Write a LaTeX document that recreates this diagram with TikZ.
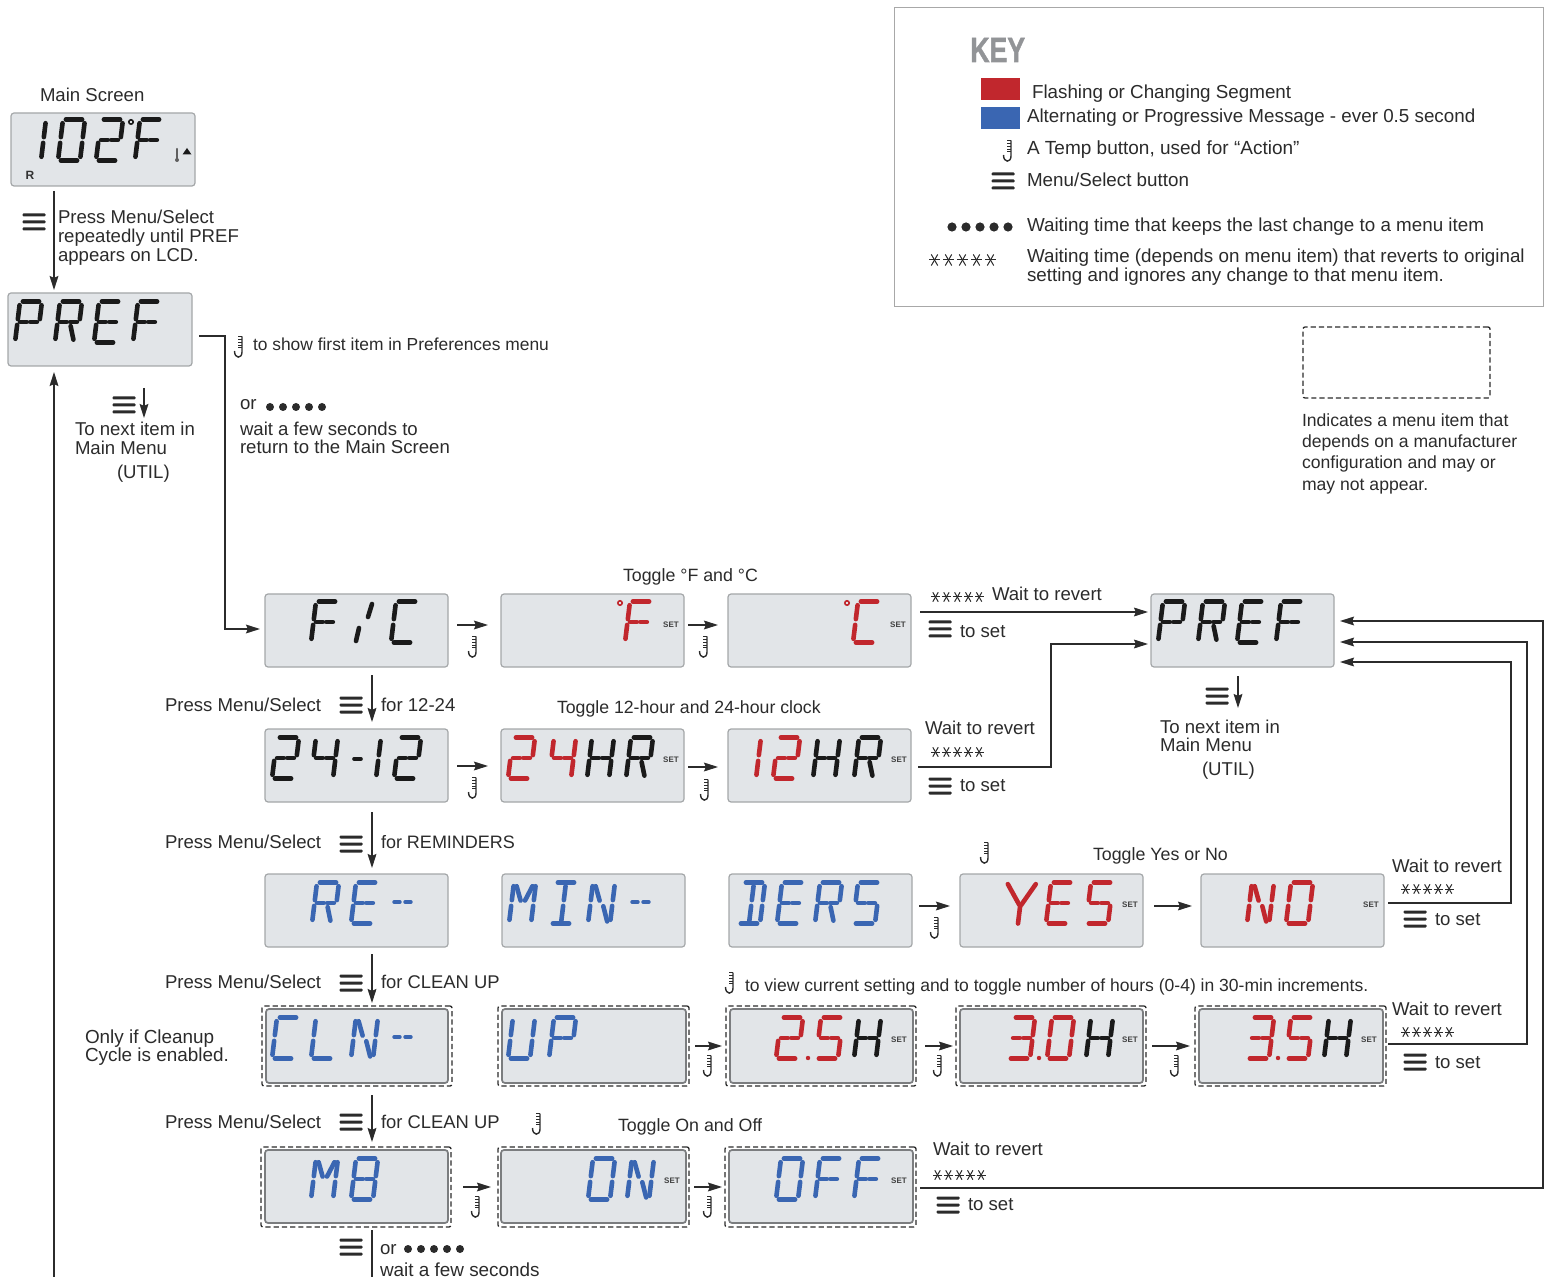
\documentclass[tikz,border=0pt]{standalone}
\usepackage{fontspec}
\setmainfont{Liberation Sans}
\newfontface\keyfont[FakeBold=1.5]{Liberation Sans Bold}
\usetikzlibrary{arrows.meta,calc}
\definecolor{lcdfill}{HTML}{E2E5E8}
\definecolor{lcdedge}{HTML}{A4A7A9}
\definecolor{lcdred}{HTML}{C1272D}
\definecolor{lcdblue}{HTML}{3A66B2}
\definecolor{lcdblack}{HTML}{1A1A1A}
\definecolor{textcol}{HTML}{2B2B2B}
\definecolor{keygray}{HTML}{929497}
\definecolor{boxgray}{HTML}{A8A8A8}
\newcounter{labn}
\tikzset{
  txt/.style={font=\fontsize{9.3}{11}\selectfont,anchor=base west,inner sep=0pt,outer sep=0pt,text=textcol},
  fs/.style={font=\fontsize{#1}{11}\selectfont},
  smalltxt/.style={txt,fs=8.8},
  lcdpanel/.style={draw=lcdedge,line width=.6pt,fill=lcdfill,rounded corners=1.5pt,inner sep=0pt,outer sep=0pt},
  darkpanel/.style={lcdpanel,draw=lcdedge!75!black,line width=.85pt},
  dashbox/.style={draw=textcol,line width=.65pt,dash pattern=on 2.6pt off 1.5pt,rounded corners=1pt,inner sep=0pt,outer sep=0pt},
  segline/.style={line width=2.3pt,line cap=round},
  arrowline/.style={draw=textcol,line width=.6pt,-{Stealth[length=7pt,width=4.4pt,inset=.9pt]}},
  plainline/.style={draw=textcol,line width=.6pt},
  settag/.style={font=\fontsize{4}{4}\bfseries\selectfont,inner sep=0pt,outer sep=0pt,text=black!75},
  pics/menuicon/.style={code={\foreach \q in {-7,0,7}{\fill[textcol,rounded corners=.5pt] (-11.5,\q-1.5) rectangle (11.5,\q+1.5);}}},
  pics/tempicon/.style={code={
    \draw[textcol,line width=.7pt] (3,-10.5) -- (3,5) .. controls (3,12) and (-4.5,12) .. (-4.5,4);
    \foreach \q in {-10.5,-7.7,-4.9,-2.1,.7}{\draw[textcol,line width=.35pt] (3,\q) -- (-1.5,\q);}}},
  pics/dotsrow/.style={code={\foreach \q in {0,1,2,3,4}{\fill[textcol] (\q*13,0) circle (4);}}},
  pics/keydots/.style={code={\foreach \q in {0,1,2,3,4}{\fill[textcol] (\q*14,0) circle (4.6);}}},
  pics/starsrow/.style={code={\foreach \q in {0,1,2,3,4}{\foreach \a/\r in {0/4.4,60/5.4,120/5.4}{\draw[textcol,line width=.5pt] ($(\q*10.9,0)+(\a:\r)$) -- ($(\q*10.9,0)+(\a+180:\r)$);}}}},
  pics/keystars/.style={code={\foreach \q in {0,1,2,3,4}{\foreach \a/\r in {0/5.4,60/6.4,120/6.4}{\draw[textcol,line width=.5pt] ($(\q*14,0)+(\a:\r)$) -- ($(\q*14,0)+(\a+180:\r)$);}}}},
}
\newcommand\lab[4][txt]{\stepcounter{labn}\node[#1] (lab\arabic{labn}) at (#2,#3+1) {#4};}
\newcommand\panel[6][lcdpanel]{\pgfmathsetmacro\pw{(#5-#3)*.5}\pgfmathsetmacro\ph{(#6-#4)*.5}\node[#1,minimum width=\pw pt,minimum height=\ph pt] (#2) at ({(#3+#5)/2},{(#4+#6)/2}) {};}
\newcommand\dashed[5]{\pgfmathsetmacro\pw{(#4-#2)*.5}\pgfmathsetmacro\ph{(#5-#3)*.5}\node[dashbox,minimum width=\pw pt,minimum height=\ph pt] (#1) at ({(#2+#4)/2},{(#3+#5)/2}) {};}
% segment geometry in a unit cell (origin top-left, slanted)
\def\SEGa{(.13,0) -- (.87,0)}
\def\SEGb{(1,.09) -- (1,.43)}
\def\SEGc{(1,.57) -- (1,.91)}
\def\SEGd{(.13,1) -- (.87,1)}
\def\SEGe{(0,.57) -- (0,.91)}
\def\SEGf{(0,.09) -- (0,.43)}
\def\SEGg{(.12,.5) -- (.42,.5)}
\def\SEGh{(.58,.5) -- (.88,.5)}
\def\SEGk{(.62,.6) -- (.82,.93)}
\def\SEGm{(.5,.09) -- (.5,.43)}
\def\SEGn{(.5,.57) -- (.5,.98)}
\def\SEGp{(.14,.09) -- (.4,.44)}
\def\SEGq{(.6,.58) -- (.86,.95)}
\def\SEGr{(.86,.09) -- (.6,.44)}
\def\SEGs{(-.18,.04) -- (.46,.55)}
\def\SEGt{(1.09,.04) -- (.54,.55)}
\def\SEGu{(.5,.6) -- (.5,1)}
\def\GLone{b,c}
\def\GLtwo{a,b,g,h,e,d}
\def\GLthree{a,b,g,h,c,d}
\def\GLfour{f,g,h,b,c}
\def\GLfive{a,f,g,h,c,d}
\def\GLzero{a,b,c,d,e,f}
\def\GLeight{a,b,c,d,e,f,g,h}
\def\GLC{a,f,e,d}
\def\GLD{a,b,c,d,m,n}
\def\GLE{a,f,e,d,g,h}
\def\GLF{a,f,e,g,h}
\def\GLH{f,e,b,c,g,h}
\def\GLI{a,d,m,n}
\def\GLL{f,e,d}
\def\GLM{f,e,b,c,p,r}
\def\GLN{f,e,b,c,p,q}
\def\GLP{a,b,f,e,g,h}
\def\GLR{a,b,f,e,g,h,k}
\def\GLU{f,e,b,c,d}
\def\GLY{s,t,u}
\newcommand\lcdrow[3]{\foreach \X/\G in {#3}{%
  \begin{scope}[shift={({\X+5},#2+1.5)},x={(11pt,0pt)},y={(-2.5pt,-20.5pt)}]
    \edef\curlist{\csname GL\G\endcsname}
    \foreach \s in \curlist {\draw[segline,#1] \csname SEG\s\endcsname;}
  \end{scope}}}
\newcommand\lcddash[4]{\draw[segline,line width=1.7pt,#1] (#2,#4) -- ({#2+6},#4); \draw[segline,line width=1.7pt,#1] ({#2+11},#4) -- ({#2+17},#4);}
\newcommand\lcddeg[3]{\draw[#1,line width=.8pt] (#2,#3) circle (2.2);}
\begin{document}
\begin{tikzpicture}[x=.5pt,y=-.5pt]
\useasboundingbox (0,0) rectangle (1546,1277);
% ---- key
\node[draw=boxgray,line width=.5pt,minimum width=324.5pt,minimum height=149.5pt,inner sep=0pt,outer sep=0pt] (keybox) at (1218.5,157.5) {};
\node[anchor=base west,inner sep=0pt,text=keygray,font=\fontsize{17.5}{20}\keyfont] (keytitle) at (970,62) {\scalebox{.76}[1]{KEY}};
\node[fill=lcdred,minimum width=19.5pt,minimum height=11pt,inner sep=0pt] (keyred) at (1000.5,89) {};
\node[fill=lcdblue,minimum width=19.5pt,minimum height=11pt,inner sep=0pt] (keyblue) at (1000.5,118) {};
\lab[txt,fs=9.4]{1032}{98}{Flashing or Changing Segment}
\lab[txt,fs=9.4]{1027}{122}{Alternating or Progressive Message - ever 0.5 second}
\lab[txt,fs=9.5]{1027}{154}{A Temp button, used for “Action”}
\lab[txt,fs=9.4]{1027}{186}{Menu/Select button}
\lab[txt,fs=9.4]{1027}{231}{Waiting time that keeps the last change to a menu item}
\lab[txt,fs=9.4]{1027}{262}{Waiting time (depends on menu item) that reverts to original}
\lab[txt,fs=9.4]{1027}{281}{setting and ignores any change to that menu item.}
\pic at (1008,151) {tempicon};
\pic at (1003,181) {menuicon};
\pic at (952,227) {keydots};
\pic at (934.5,260) {keystars};
% ---- legend for dashed box
\dashed{dashkey}{1303}{327}{1490}{398}
\lab[smalltxt]{1302}{426}{Indicates a menu item that}
\lab[smalltxt]{1302}{447}{depends on a manufacturer}
\lab[smalltxt]{1302}{468}{configuration and may or}
\lab[smalltxt]{1302}{490}{may not appear.}
% ---- dashed frames
\dashed{dcln}{262}{1006}{452}{1086}
\dashed{dup}{498}{1006}{689}{1086}
\dashed{dtf}{726}{1006}{916}{1086}
\dashed{dth}{956}{1006}{1146}{1086}
\dashed{dtt}{1195}{1006}{1386}{1086}
\dashed{dmb}{261}{1147}{451}{1227}
\dashed{don}{498}{1147}{689}{1227}
\dashed{doff}{725}{1147}{916}{1227}
% ---- panels
\panel{main}{11}{113}{195}{186}
\panel{prefa}{8}{293}{192}{366}
\panel{fc}{265}{594}{448}{667}
\panel{ff}{501}{594}{684}{667}
\panel{cc}{728}{594}{911}{667}
\panel{prefb}{1151}{594}{1334}{667}
\panel{tf}{265}{729}{448}{802}
\panel{hf}{501}{729}{684}{802}
\panel{ht}{728}{729}{911}{802}
\panel{re}{265}{874}{448}{947}
\panel{min}{502}{874}{685}{947}
\panel{ders}{729}{874}{912}{947}
\panel{yes}{960}{874}{1143}{947}
\panel{no}{1201}{874}{1384}{947}
\panel[darkpanel]{cln}{266}{1009}{448}{1083}
\panel[darkpanel]{up}{502}{1009}{686}{1083}
\panel[darkpanel]{tfh}{730}{1009}{913}{1083}
\panel[darkpanel]{thh}{960}{1009}{1143}{1083}
\panel[darkpanel]{tth}{1199}{1009}{1383}{1083}
\panel[darkpanel]{mb}{265}{1150}{448}{1223}
\panel[darkpanel]{on}{501}{1150}{686}{1223}
\panel[darkpanel]{off}{729}{1150}{913}{1223}
% ---- LCD contents
\lcdrow{lcdblack}{118}{19/one,58/zero,96/two,135/F}
\lcddeg{lcdblack}{131}{122}
\node[font=\fontsize{6}{7}\bfseries\selectfont,inner sep=0pt,text=black!80] (mainr) at (30,175) {R};
\draw[lcdblack!70,line width=1.1pt,line cap=round] (177,149) -- (177,159);
\fill[lcdblack!70] (177,160) circle (2);
\fill[lcdblack] (182.5,154.5) -- (191.5,154.5) -- (187,148) -- cycle;
\lcdrow{lcdblack}{300}{15/P,55/R,94/E,133/F}
\lcdrow{lcdblack}{600}{311/F,391/C}
\draw[segline,lcdblack] (372,604) -- (368,617);
\draw[segline,lcdblack] (359,628) -- (356,641);
\lcdrow{lcdred}{600}{625/F}
\lcddeg{lcdred}{620}{603}
\lcdrow{lcdred}{600}{853/C}
\lcddeg{lcdred}{847}{603}
\lcdrow{lcdblack}{600}{1158/P,1198/R,1237/E,1276/F}
\lcdrow{lcdblack}{736}{272/two,311/four,354/one,394/two}
\draw[segline,lcdblack,line width=1.8pt] (354,759) -- (361,759);
\lcdrow{lcdred}{736}{508/two,549/four}
\lcdrow{lcdblack}{736}{587/H,626/R}
\lcdrow{lcdred}{736}{734/one,773/two}
\lcdrow{lcdblack}{736}{813/H,854/R}
\lcdrow{lcdblue}{881}{312/R,351/E}
\lcddash{lcdblue}{394}{902}{902}
\lcdrow{lcdblue}{881}{509/M,550/I,588/N}
\lcddash{lcdblue}{632}{902}{902}
\lcdrow{lcdblue}{881}{738/D,777/E,815/R,853/five}
\lcdrow{lcdred}{881}{1007/Y,1046/E,1086/five}
\lcdrow{lcdred}{881}{1247/N,1286/zero}
\lcdrow{lcdblue}{1016}{272/C,311/L,351/N}
\lcddash{lcdblue}{394}{1037}{1037}
\lcdrow{lcdblue}{1016}{508/U,549/P}
\lcdrow{lcdred}{1016}{776/two,816/five}
\fill[lcdred] (808,1058) circle (2.2);
\lcdrow{lcdblack}{1016}{854/H}
\lcdrow{lcdred}{1016}{1008/three,1047/zero}
\fill[lcdred] (1039,1058) circle (2.2);
\lcdrow{lcdblack}{1016}{1086/H}
\lcdrow{lcdred}{1016}{1247/three,1286/five}
\fill[lcdred] (1278,1058) circle (2.2);
\lcdrow{lcdblack}{1016}{1324/H}
\lcdrow{lcdblue}{1157}{311/M,351/eight}
\lcdrow{lcdblue}{1157}{588/zero,627/N}
\lcdrow{lcdblue}{1157}{776/zero,815/F,854/F}
\node[settag] (s1) at (671,625) {SET};
\node[settag] (s2) at (898,625) {SET};
\node[settag] (s3) at (671,760) {SET};
\node[settag] (s4) at (899,760) {SET};
\node[settag] (s5) at (1130,905) {SET};
\node[settag] (s6) at (1371,905) {SET};
\node[settag] (s7) at (899,1040) {SET};
\node[settag] (s8) at (1130,1040) {SET};
\node[settag] (s9) at (1369,1040) {SET};
\node[settag] (s10) at (672,1181) {SET};
\node[settag] (s11) at (899,1181) {SET};
% ---- long connectors
\coordinate (colA) at (54,0);
\coordinate (colB) at (372,0);
\coordinate (bottomA) at (54,1277);
\coordinate (bottomB) at (372,1277);
\draw[arrowline,shorten <=2.5pt,shorten >=1.5pt] (main.south -| colA) -- (prefa.north -| colA);
\draw[arrowline,shorten >=3pt] (bottomA) -- (prefa.south -| colA);
\draw[arrowline,shorten <=3.5pt,shorten >=2.5pt] (prefa.east |- 0,336) -- (225,336) -- (225,629) -- (fc.west |- 0,629);
\draw[arrowline,shorten <=4.5pt,shorten >=1.5pt] (cc.east |- 0,612) -- (prefb.west |- 0,612);
\draw[arrowline,shorten <=3.5pt,shorten >=1.5pt] (ht.east |- 0,767) -- (1051,767) -- (1051,644) -- (prefb.west |- 0,644);
\draw[arrowline,shorten <=2pt,shorten >=3pt] (no.east |- 0,903) -- (1511,903) -- (1511,662) -- (prefb.east |- 0,662);
\draw[arrowline,shorten <=1pt,shorten >=3pt] (dtt.east |- 0,1044) -- (1527,1044) -- (1527,642) -- (prefb.east |- 0,642);
\draw[arrowline,shorten <=2pt,shorten >=3pt] (doff.east |- 0,1188) -- (1543,1188) -- (1543,621) -- (prefb.east |- 0,621);
% ---- vertical connectors
\draw[arrowline,shorten <=4pt,shorten >=3.5pt] (fc.south -| colB) -- (tf.north -| colB);
\draw[arrowline,shorten <=5pt,shorten >=3pt] (tf.south -| colB) -- (re.north -| colB);
\draw[arrowline,shorten <=3.5pt,shorten >=1.5pt] (re.south -| colB) -- (dcln.north -| colB);
\draw[arrowline,shorten <=4.5pt,shorten >=2.5pt] (dcln.south -| colB) -- (dmb.north -| colB);
\draw[plainline,shorten <=1.5pt] (dmb.south -| colB) -- (bottomB);
% ---- small side arrows to next item
\coordinate (nxa) at (144,388);
\coordinate (nxb) at (144,418);
\coordinate (nyA) at (1238,676);
\coordinate (nyB) at (1238,708);
\draw[arrowline] (nxa) -- (nxb);
\draw[arrowline] (nyA) -- (nyB);
% ---- short horizontal arrows
\draw[arrowline,shorten <=4.5pt,shorten >=6.5pt] (fc.east |- 0,625) -- (ff.west |- 0,625);
\draw[arrowline,shorten <=2pt,shorten >=5pt] (ff.east |- 0,625) -- (cc.west |- 0,625);
\draw[arrowline,shorten <=4.5pt,shorten >=6.5pt] (tf.east |- 0,766) -- (hf.west |- 0,766);
\draw[arrowline,shorten <=2pt,shorten >=5pt] (hf.east |- 0,767) -- (ht.west |- 0,767);
\draw[arrowline,shorten <=3.5pt,shorten >=5pt] (ders.east |- 0,906) -- (yes.west |- 0,906);
\draw[arrowline,shorten <=5.5pt,shorten >=4.5pt] (yes.east |- 0,906) -- (no.west |- 0,906);
\draw[arrowline,shorten <=3pt,shorten >=2pt] (dup.east |- 0,1046) -- (dtf.west |- 0,1046);
\draw[arrowline,shorten <=4.5pt,shorten >=1.5pt] (dtf.east |- 0,1046) -- (dth.west |- 0,1046);
\draw[arrowline,shorten <=3pt,shorten >=2.5pt] (dth.east |- 0,1046) -- (dtt.west |- 0,1046);
\draw[arrowline,shorten <=6pt,shorten >=3.5pt] (dmb.east |- 0,1187) -- (don.west |- 0,1187);
\draw[arrowline,shorten <=2.5pt,shorten >=1.5pt] (don.east |- 0,1187) -- (doff.west |- 0,1187);
% ---- icons
\foreach \x/\y in {34/222,124/405,351/705,351/844,351/983,351/1122,351/1247,1217/696,940/629,940/786,1415/919,1415/1062,948/1205}{\pic at (\x,\y) {menuicon};}
\foreach \x/\y in {473/647,704/647,473/788,705/790,239/347,935/928,985/853,730/983,708/1066,938/1066,1175/1066,476/1207,708/1207,537/1124}{\pic at (\x,\y) {tempicon};}
\pic at (270,407) {dotsrow};
\pic at (408,1249) {dotsrow};
\foreach \x/\y in {935.5/597,935.5/752,1405.5/889,1405.5/1032,937.5/1175}{\pic at (\x,\y) {starsrow};}
% ---- labels
\lab{40}{101}{Main Screen}
\lab{58}{223}{Press Menu/Select}
\lab{58}{242}{repeatedly until PREF}
\lab{58}{261}{appears on LCD.}
\lab[txt,fs=8.7]{253}{350}{to show first item in Preferences menu}
\lab{240}{409}{or}
\lab{240}{435}{wait a few seconds to}
\lab{240}{453}{return to the Main Screen}
\lab{75}{435}{To next item in}
\lab{75}{454}{Main Menu}
\lab{117}{478}{(UTIL)}
\lab[txt,fs=8.9]{623}{581}{Toggle °F and °C}
\lab{992}{600}{Wait to revert}
\lab{960}{637}{to set}
\lab{165}{710}{Press Menu/Select}
\lab{381}{710}{for 12-24}
\lab[txt,fs=8.85]{557}{712}{Toggle 12-hour and 24-hour clock}
\lab{925}{733}{Wait to revert}
\lab{960}{790}{to set}
\lab{1160}{732}{To next item in}
\lab{1160}{750}{Main Menu}
\lab{1202}{774}{(UTIL)}
\lab{165}{847}{Press Menu/Select}
\lab[txt,fs=9]{381}{847}{for REMINDERS}
\lab[txt,fs=8.9]{1093}{859}{Toggle Yes or No}
\lab{1392}{871}{Wait to revert}
\lab{1435}{924}{to set}
\lab{165}{987}{Press Menu/Select}
\lab[txt,fs=9.2]{381}{987}{for CLEAN UP}
\lab[txt,fs=8.76]{745}{990}{to view current setting and to toggle number of hours (0-4) in 30-min increments.}
\lab[txt,fs=9.45]{85}{1042}{Only if Cleanup}
\lab[txt,fs=9.45]{85}{1060}{Cycle is enabled.}
\lab{1392}{1014}{Wait to revert}
\lab{1435}{1067}{to set}
\lab{165}{1127}{Press Menu/Select}
\lab[txt,fs=9.2]{381}{1127}{for CLEAN UP}
\lab[txt,fs=8.9]{618}{1130}{Toggle On and Off}
\lab{933}{1154}{Wait to revert}
\lab{968}{1209}{to set}
\lab{380}{1253}{or}
\lab[txt,fs=9.45]{380}{1275}{wait a few seconds}
\end{tikzpicture}
\end{document}
